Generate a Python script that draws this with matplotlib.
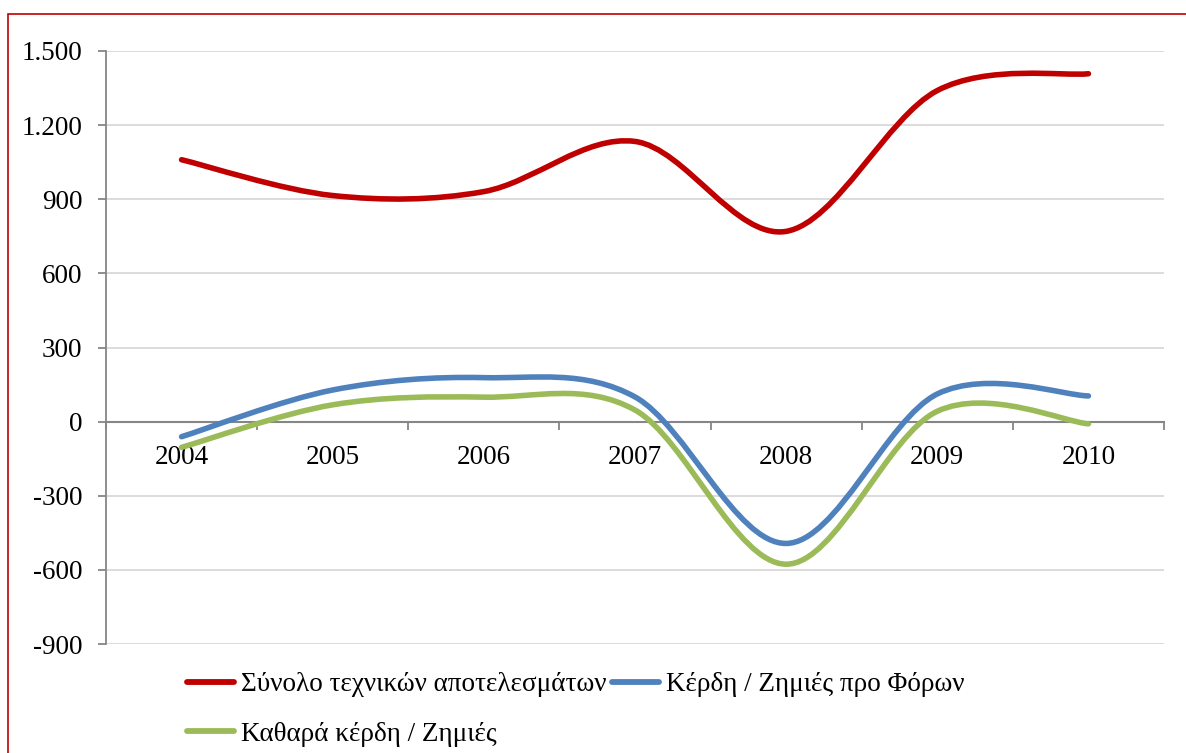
import numpy as np
import matplotlib
matplotlib.use("Agg")
import matplotlib.pyplot as plt
from matplotlib.path import Path
from matplotlib.patches import PathPatch, Rectangle
from matplotlib.lines import Line2D
from matplotlib.ticker import FuncFormatter, FixedLocator

years = ["2004", "2005", "2006", "2007", "2008", "2009", "2010"]
technical_total = [1060, 915, 931, 1134, 770, 1340, 1408]
pretax_profit = [-61, 128, 178, 100, -493, 112, 104]
net_profit = [-104, 68, 99, 47, -577, 42, -9]

labels = ["Σύνολο τεχνικών αποτελεσμάτων", "Κέρδη / Ζημιές προ Φόρων",
          "Καθαρά κέρδη / Ζημιές"]
RED, BLUE, GREEN = "#C00000", "#4F81BD", "#9BBB59"
AXIS_GRAY, GRID = "#868686", "#D9D9D9"

plt.rcParams["font.family"] = ["Liberation Serif", "DejaVu Serif"]
FS = 19.5


def smooth_path(ys):
    # Excel-style smoothed line: cubic Bezier through each point
    pts = np.column_stack([np.arange(len(ys)), ys]).astype(float)
    verts, codes = [pts[0]], [Path.MOVETO]
    for i in range(len(pts) - 1):
        p0 = pts[i - 1] if i > 0 else pts[i]
        p1, p2 = pts[i], pts[i + 1]
        p3 = pts[i + 2] if i + 2 < len(pts) else pts[i + 1]
        verts += [p1 + (p2 - p0) / 6, p2 - (p3 - p1) / 6, p2]
        codes += [Path.CURVE4] * 3
    return Path(verts, codes)


W, H = 1186, 753
fig = plt.figure(figsize=(W / 100, H / 100), dpi=100)
ax = fig.add_axes([106 / W, 1 - 644 / H, (1164 - 106) / W, (644 - 51) / H])

for ys, col in [(technical_total, RED), (pretax_profit, BLUE), (net_profit, GREEN)]:
    ax.add_patch(PathPatch(smooth_path(ys), fill=False, edgecolor=col, lw=4,
                           capstyle="round", joinstyle="round", zorder=3))

ax.set_xlim(-0.5, len(years) - 0.5)
ax.set_ylim(-900, 1500)
ax.yaxis.set_major_locator(FixedLocator(np.arange(-900, 1501, 300)))
ax.yaxis.set_major_formatter(FuncFormatter(lambda v, p: f"{int(v):,}".replace(",", ".")))
ax.grid(axis="y", color=GRID, lw=1.3, zorder=0)

ax.set_xticks(range(len(years)))
ax.set_xticklabels(years)
ax.set_xticks(np.arange(-0.5, len(years)), minor=True)
ax.tick_params(axis="x", which="major", length=0, pad=17, labelsize=FS)
ax.tick_params(axis="x", which="minor", length=6, width=1.3, color=AXIS_GRAY, direction="out")
ax.tick_params(axis="y", length=6, width=1.3, color=AXIS_GRAY, pad=11, labelsize=FS)

for s in ("top", "right"):
    ax.spines[s].set_visible(False)
ax.spines["bottom"].set_position(("data", 0))
ax.spines["bottom"].set_color(AXIS_GRAY)
ax.spines["bottom"].set_linewidth(1.5)
ax.spines["left"].set_color(AXIS_GRAY)
ax.spines["left"].set_linewidth(1.3)

handles = [Line2D([], [], color=c, lw=4.2, solid_capstyle="round") for c in (RED, BLUE, GREEN)]
leg = fig.legend([handles[0], handles[2], handles[1]], [labels[0], labels[2], labels[1]],
                 ncol=2, loc="upper left", bbox_to_anchor=(187 / W, 1 - 672 / H),
                 frameon=False, fontsize=FS, handlelength=1.75, handletextpad=0.25,
                 columnspacing=0.2, labelspacing=0.92, borderpad=0, borderaxespad=0)

fig.patches.append(Rectangle((8 / W, -0.5), 2, 1.5 - 14 / H, transform=fig.transFigure,
                             fill=False, edgecolor=RED, lw=1.2))

fig.savefig("out.png", dpi=100)
